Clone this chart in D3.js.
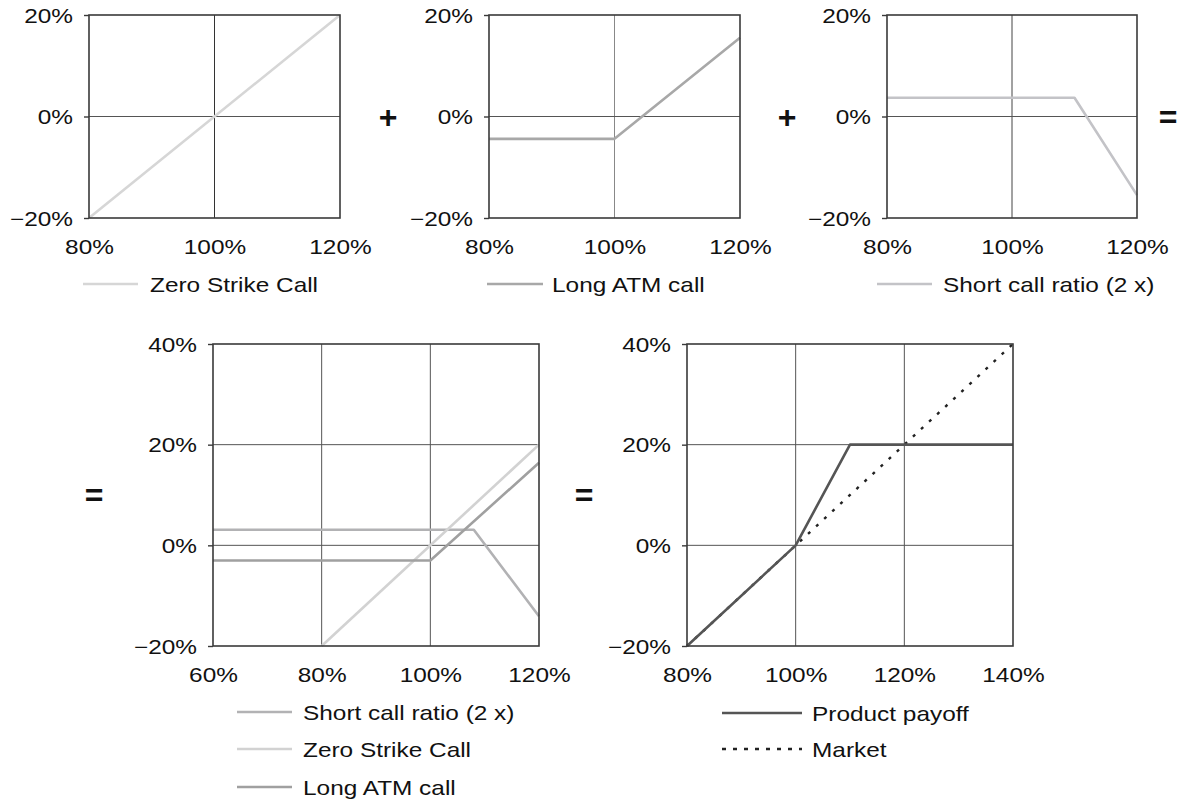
<!DOCTYPE html>
<html>
<head>
<meta charset="utf-8">
<script src="https://cdn.jsdelivr.net/npm/d3@7"></script>
<style>
  html, body { margin: 0; padding: 0; background: #fff; }
  svg { display: block; }
  text { font-family: "Liberation Sans", Arial, Helvetica, sans-serif; fill: #111; }
</style>
</head>
<body>
<svg id="chart" width="1183" height="803"></svg>
<script>
// ---------- data ----------
const topXTicks = [80, 100, 120];
const topYTicks = [-20, 0, 20];
const sumXTicks = [60, 80, 100, 120];
const payXTicks = [80, 100, 120, 140];
const bottomYTicks = [-20, 0, 20, 40];

// [underlying level %, payoff %]
const topZeroStrike = [[80, -20], [120, 20]];
const topLongATM = [[80, -4.4], [100, -4.4], [120, 15.5]];
const topShortCall = [[80, 3.7], [110, 3.7], [120, -15.5]];

const sumShortCall = [[60, 3.1], [108, 3.1], [120, -14.1]];
const sumZeroStrike = [[80, -20], [120, 20]];
const sumLongATM = [[60, -3], [100, -3], [120, 16.4]];

const productPayoff = [[80, -20], [100, 0], [110, 20], [140, 20]];
const market = [[80, -20], [140, 40]];

const labels = {
  zero: "Zero Strike Call",
  atm: "Long ATM call",
  short: "Short call ratio (2 x)",
  product: "Product payoff",
  market: "Market"
};

// ---------- helpers ----------
const svg = d3.select("#chart");
const SX = 1.22, FS = 20;
const fmt = d => (d < 0 ? "\u2212" + Math.abs(d) : d) + "%";

function panel(cfg) {
  const x = d3.scaleLinear().domain(cfg.xDomain).range([cfg.x0, cfg.x1]);
  const y = d3.scaleLinear().domain(cfg.yDomain).range([cfg.y1, cfg.y0]);
  const g = svg.append("g");

  // grid
  g.append("g").selectAll("line").data(cfg.xTicks.slice(1, -1)).join("line")
    .attr("x1", d => x(d)).attr("x2", d => x(d)).attr("y1", cfg.y0).attr("y2", cfg.y1)
    .attr("stroke", cfg.gridColor || "#555").attr("stroke-width", 1);
  g.append("g").selectAll("line").data(cfg.yTicks.slice(1, -1)).join("line")
    .attr("y1", d => y(d)).attr("y2", d => y(d)).attr("x1", cfg.x0).attr("x2", cfg.x1)
    .attr("stroke", "#555").attr("stroke-width", 1);

  // series
  const line = d3.line().x(d => x(d[0])).y(d => y(d[1]));
  cfg.series.forEach(s => {
    g.append("path").datum(s.data).attr("d", line)
      .attr("fill", "none").attr("stroke", s.color).attr("stroke-width", s.width || 2.6)
      .attr("stroke-dasharray", s.dash || null).attr("stroke-linejoin", "round");
  });

  // frame
  g.append("rect").attr("x", cfg.x0).attr("y", cfg.y0)
    .attr("width", cfg.x1 - cfg.x0).attr("height", cfg.y1 - cfg.y0)
    .attr("fill", "none").attr("stroke", "#3a3a3a").attr("stroke-width", 1.6);

  // y axis
  const ya = g.append("g").attr("transform", `translate(${cfg.x0},0)`)
    .call(d3.axisLeft(y).tickValues(cfg.yTicks).tickSize(5).tickFormat(fmt));
  ya.select(".domain").remove();
  ya.selectAll(".tick line").attr("stroke", "#3a3a3a").attr("stroke-width", 1.4);
  ya.selectAll(".tick text").attr("x", null).attr("dy", "0.36em")
    .attr("transform", `translate(-16,0) scale(${SX},1)`)
    .style("font-size", FS + "px").style("font-family", "Liberation Sans, Arial, sans-serif")
    .attr("fill", "#111");

  // x axis
  const xa = g.append("g").attr("transform", `translate(0,${cfg.y1})`)
    .call(d3.axisBottom(x).tickValues(cfg.xTicks).tickSize(0).tickFormat(fmt));
  xa.select(".domain").remove();
  xa.selectAll(".tick text").attr("y", null).attr("dy", null)
    .attr("transform", `translate(0,36) scale(${SX},1)`)
    .style("font-size", FS + "px").style("font-family", "Liberation Sans, Arial, sans-serif")
    .attr("fill", "#111");

  // legend
  cfg.legend.forEach(l => {
    g.append("line").attr("x1", l.lx0).attr("x2", l.lx1).attr("y1", l.ly).attr("y2", l.ly)
      .attr("stroke", l.color).attr("stroke-width", l.width || 2.6)
      .attr("stroke-dasharray", l.dash || null);
    g.append("text").attr("transform", `translate(${l.tx},${l.ly + 8}) scale(${SX},1)`)
      .style("font-size", FS + "px").text(l.text);
  });
}

const cZero = "#d6d6d6", cATM = "#a8a8a8", cShort = "#c3c3c7";
const cZero2 = "#d2d2d2", cATM2 = "#a0a0a0", cShort2 = "#b2b2b4";

// top row
panel({
  x0: 89, x1: 340, y0: 15, y1: 218, xDomain: [80, 120], yDomain: [-20, 20],
  xTicks: topXTicks, yTicks: topYTicks, gridColor: "#333",
  series: [{ data: topZeroStrike, color: cZero }],
  legend: [{ lx0: 83, lx1: 138, ly: 284, tx: 150, color: cZero, text: labels.zero }]
});
panel({
  x0: 489, x1: 740, y0: 15, y1: 218, xDomain: [80, 120], yDomain: [-20, 20],
  xTicks: topXTicks, yTicks: topYTicks, gridColor: "#888",
  series: [{ data: topLongATM, color: cATM }],
  legend: [{ lx0: 487, lx1: 543, ly: 284, tx: 552, color: cATM, text: labels.atm }]
});
panel({
  x0: 887, x1: 1137, y0: 15, y1: 218, xDomain: [80, 120], yDomain: [-20, 20],
  xTicks: topXTicks, yTicks: topYTicks, gridColor: "#444",
  series: [{ data: topShortCall, color: cShort }],
  legend: [{ lx0: 877, lx1: 932, ly: 284, tx: 943, color: cShort, text: labels.short }]
});

// bottom row
panel({
  x0: 213, x1: 539, y0: 344, y1: 646, xDomain: [60, 120], yDomain: [-20, 40],
  xTicks: sumXTicks, yTicks: bottomYTicks, gridColor: "#555",
  series: [
    { data: sumShortCall, color: cShort2 },
    { data: sumZeroStrike, color: cZero2 },
    { data: sumLongATM, color: cATM2 }
  ],
  legend: [
    { lx0: 237, lx1: 292, ly: 712, tx: 303, color: cShort2, text: labels.short },
    { lx0: 237, lx1: 292, ly: 749, tx: 303, color: cZero2, text: labels.zero },
    { lx0: 237, lx1: 292, ly: 787, tx: 303, color: cATM2, text: labels.atm }
  ]
});
panel({
  x0: 687, x1: 1013, y0: 344, y1: 646, xDomain: [80, 140], yDomain: [-20, 40],
  xTicks: payXTicks, yTicks: bottomYTicks, gridColor: "#555",
  series: [
    { data: market, color: "#222", width: 2.4, dash: "3,8" },
    { data: productPayoff, color: "#555", width: 2.6 }
  ],
  legend: [
    { lx0: 722, lx1: 802, ly: 713, tx: 812, color: "#555", text: labels.product },
    { lx0: 722, lx1: 802, ly: 749, tx: 812, color: "#222", width: 2.4, dash: "4,7", text: labels.market }
  ]
});

// operators
const ops = [
  { x: 388, y: 117, t: "+" }, { x: 787, y: 117, t: "+" }, { x: 1168, y: 117, t: "=" },
  { x: 94, y: 495, t: "=" }, { x: 584, y: 495, t: "=" }
];
svg.selectAll("text.op").data(ops).join("text").attr("class", "op")
  .attr("x", d => d.x).attr("y", d => d.y).attr("dy", "0.35em")
  .attr("text-anchor", "middle").style("font-size", "32px").style("font-weight", "bold")
  .attr("fill", "#222").text(d => d.t);
</script>
</body>
</html>
